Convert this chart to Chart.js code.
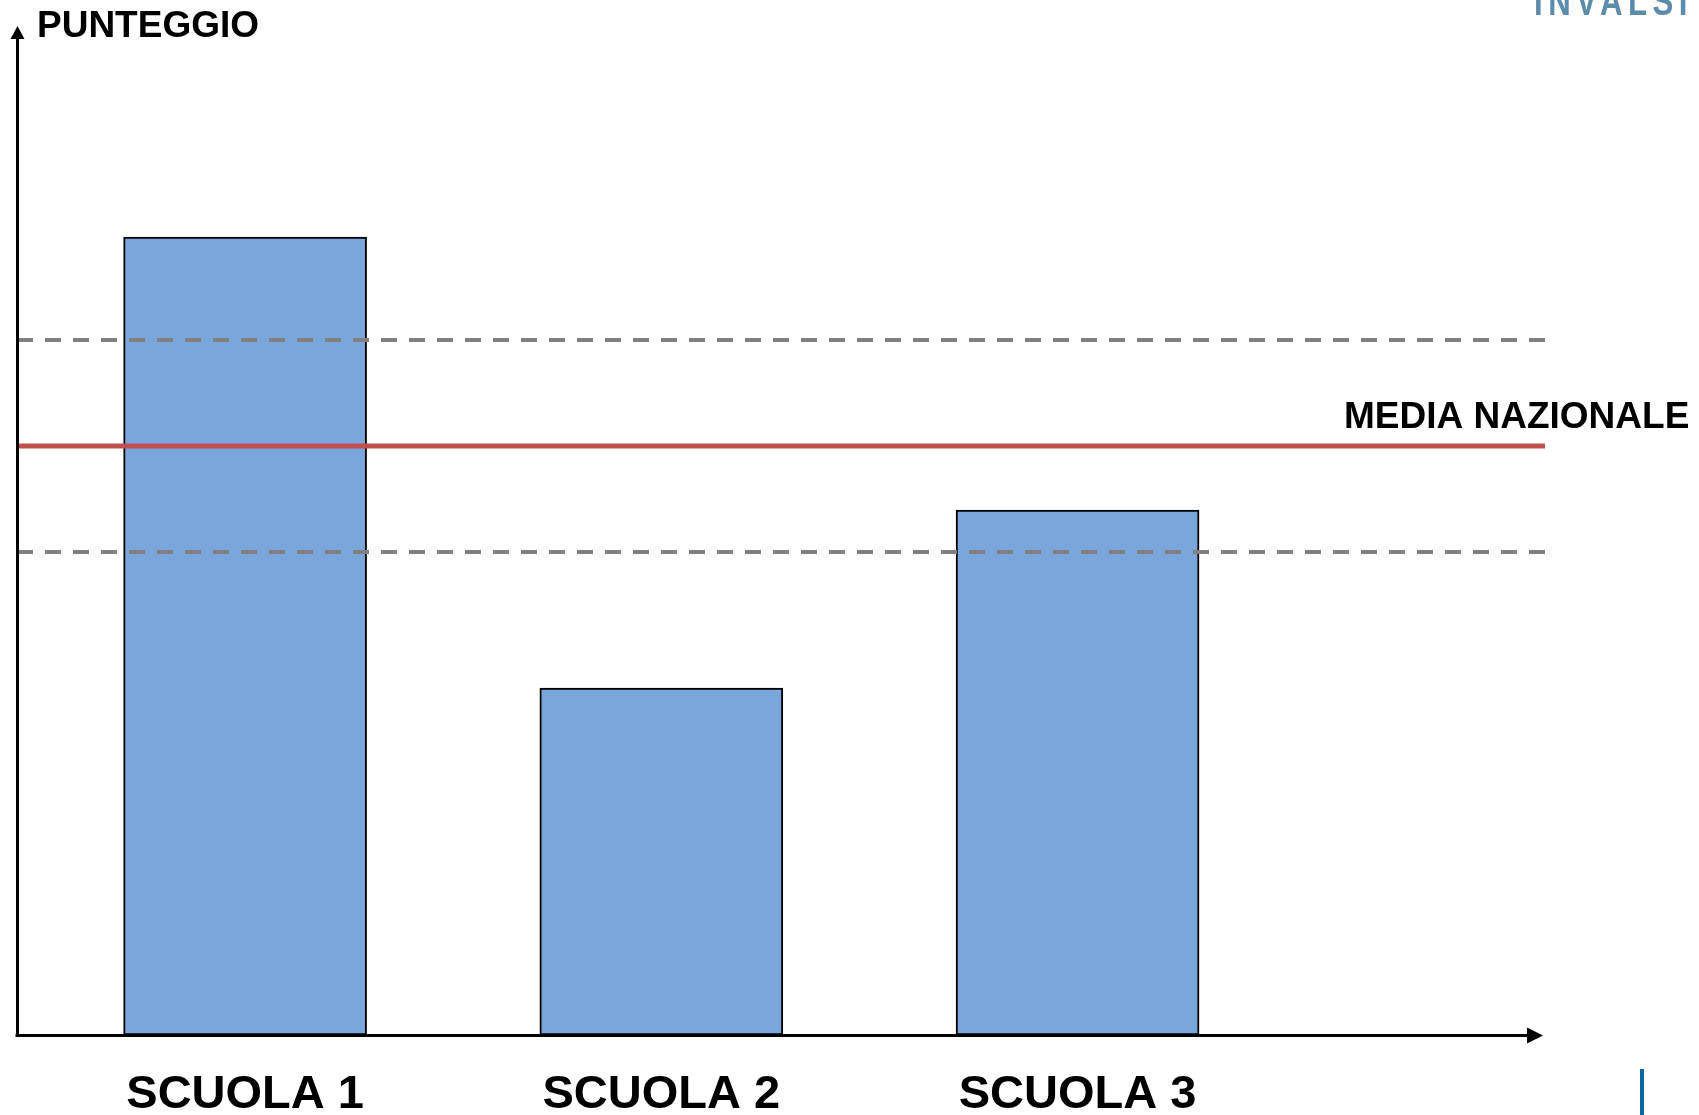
<!DOCTYPE html>
<html>
<head>
<meta charset="utf-8">
<script src="https://cdn.jsdelivr.net/npm/chart.js@4/dist/chart.umd.min.js"></script>
<style>
  html, body { margin: 0; padding: 0; background: #ffffff; }
  canvas { display: block; }
</style>
</head>
<body>
<canvas id="c" width="1699" height="1115"></canvas>
<script>
// ---- data ----
const categories = ['SCUOLA 1', 'SCUOLA 2', 'SCUOLA 3'];
const positions = [1, 2, 3];
const scores = [79.8, 34.7, 52.5];
const mediaNazionale = 58.9;
const bandUpper = 69.5;
const bandLower = 48.3;
const yAxisTitle = 'PUNTEGGIO';
const mediaLabel = 'MEDIA NAZIONALE';
const logoText = 'INVALSI';

const X_MIN = 0.452, X_MAX = 4.123;
const Y_MIN = 0, Y_MAX = 100;

const FONT = '"Liberation Sans", Arial, Helvetica, sans-serif';

function hLine(v) { return [{ x: X_MIN, y: v }, { x: X_MAX, y: v }]; }

const decor = {
  id: 'decor',
  afterDraw(chart) {
    const ctx = chart.ctx;
    const area = chart.chartArea;
    const ys = chart.scales.y;
    ctx.save();
    // axes
    ctx.strokeStyle = '#000';
    ctx.fillStyle = '#000';
    ctx.lineWidth = 3;
    const ax = area.left + 0.5;
    const ay = ys.getPixelForValue(Y_MIN) + 0.5;
    ctx.beginPath();
    ctx.moveTo(ax, ay + 1.5);
    ctx.lineTo(ax, 38);
    ctx.stroke();
    ctx.beginPath();
    ctx.moveTo(ax, 26);
    ctx.lineTo(ax - 7, 39);
    ctx.lineTo(ax + 7, 39);
    ctx.closePath();
    ctx.fill();
    ctx.beginPath();
    ctx.moveTo(area.left - 1.5, ay);
    ctx.lineTo(1530, ay);
    ctx.stroke();
    ctx.beginPath();
    ctx.moveTo(1543, ay);
    ctx.lineTo(1527, ay - 8);
    ctx.lineTo(1527, ay + 8);
    ctx.closePath();
    ctx.fill();

    // axis title
    ctx.font = 'bold 37px ' + FONT;
    ctx.textBaseline = 'alphabetic';
    ctx.textAlign = 'left';
    ctx.fillText(yAxisTitle, 37, 37);

    // media label
    ctx.font = 'bold 37px ' + FONT;
    ctx.fillText(mediaLabel, 1344, 428);

    // logo (cut off at top edge)
    ctx.save();
    ctx.fillStyle = '#5d8cab';
    ctx.translate(1534, 15);
    ctx.scale(0.78, 1);
    ctx.font = 'bold 40px ' + FONT;
    try { ctx.letterSpacing = '7px'; } catch (e) {}
    ctx.fillText(logoText, 0, 0);
    ctx.restore();

    // small blue rule bottom right
    ctx.fillStyle = '#0f67a0';
    ctx.fillRect(1640, 1069, 4, 46);
    ctx.restore();
  }
};

new Chart(document.getElementById('c'), {
  type: 'bar',
  data: {
    datasets: [
      {
        type: 'line',
        data: hLine(bandUpper),
        borderColor: '#808080',
        borderWidth: 4,
        borderDash: [16, 12],
        pointRadius: 0,
        fill: false,
        order: 0
      },
      {
        type: 'line',
        data: hLine(bandLower),
        borderColor: '#808080',
        borderWidth: 4,
        borderDash: [16, 12],
        pointRadius: 0,
        fill: false,
        order: 0
      },
      {
        type: 'line',
        data: hLine(mediaNazionale),
        borderColor: '#C0504D',
        borderWidth: 5,
        pointRadius: 0,
        fill: false,
        order: 0
      },
      {
        type: 'bar',
        data: positions.map((p, i) => ({ x: p, y: scores[i] })),
        backgroundColor: '#7aa6dc',
        borderColor: '#000000',
        borderWidth: 2,
        borderSkipped: false,
        barThickness: 243,
        order: 1
      }
    ]
  },
  options: {
    responsive: false,
    animation: false,
    layout: { padding: { left: 17, right: 154, top: 35, bottom: 0 } },
    plugins: { legend: { display: false }, tooltip: { enabled: false } },
    scales: {
      x: {
        type: 'linear',
        min: X_MIN,
        max: X_MAX,
        offset: false,
        bounds: 'data',
        grid: { display: false, drawTicks: false, offset: false },
        border: { display: false },
        afterBuildTicks(scale) { scale.ticks = positions.map(p => ({ value: p })); },
        afterFit(scale) { scale.height = 80; },
        ticks: {
          autoSkip: false,
          maxRotation: 0,
          padding: 32,
          color: '#000',
          font: { family: FONT, size: 47, weight: 'bold' },
          callback(value) { const i = positions.indexOf(value); return i >= 0 ? categories[i] : ''; }
        }
      },
      y: {
        display: false,
        min: Y_MIN,
        max: Y_MAX
      }
    }
  },
  plugins: [decor]
});
</script>
</body>
</html>
